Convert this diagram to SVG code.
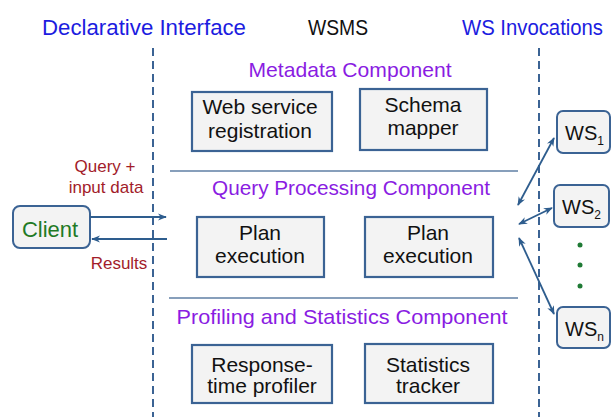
<svg xmlns="http://www.w3.org/2000/svg" width="611" height="417" viewBox="0 0 611 417">
<style>
text{font-family:"Liberation Sans",Arial,sans-serif}
.hdr{font-size:22px;fill:#1c1ce0}
.sec{font-size:21px;fill:#8a1ce2;text-anchor:middle}
.bt{font-size:21px;fill:#111;text-anchor:middle}
.lbl{font-size:17px;fill:#a21c2a;text-anchor:middle}
.box{fill:#f3f3f3;stroke:#3b6394;stroke-width:2.2}
.ws{fill:#f3f3f3;stroke:#3b6394;stroke-width:2}
.dash{stroke:#3b6394;stroke-width:2;stroke-dasharray:8,5;fill:none}
.sep{stroke:#5f7fa5;stroke-width:1.5}
.arr{stroke:#2e5d8e;stroke-width:1.8;fill:none}
</style>
<defs>
<marker id="ah" viewBox="0 0 10 10" refX="9" refY="5" markerWidth="9" markerHeight="9" orient="auto-start-reverse" markerUnits="userSpaceOnUse">
<path d="M0,1 L10,5 L0,9 L3,5 Z" fill="#2e5d8e"/>
</marker>
</defs>
<rect width="611" height="417" fill="#fff"/>
<g id="headers">
<text class="hdr" x="42" y="35" textLength="204" lengthAdjust="spacingAndGlyphs">Declarative Interface</text>
<text x="308" y="35" font-size="22" fill="#111" textLength="60" lengthAdjust="spacingAndGlyphs">WSMS</text>
<text class="hdr" x="462" y="35" textLength="141" lengthAdjust="spacingAndGlyphs">WS Invocations</text>
</g>
<g id="dividers">
<line class="dash" x1="153" y1="48" x2="153" y2="417"/>
<line class="dash" x1="539" y1="48" x2="539" y2="417"/>
<line class="sep" x1="170" y1="171" x2="518" y2="171"/>
<line class="sep" x1="169" y1="298" x2="518" y2="298"/>
</g>
<g id="sections">
<text class="sec" x="350" y="77" textLength="203" lengthAdjust="spacingAndGlyphs">Metadata Component</text>
<text class="sec" x="351" y="195" textLength="278" lengthAdjust="spacingAndGlyphs">Query Processing Component</text>
<text class="sec" x="342" y="324" textLength="331" lengthAdjust="spacingAndGlyphs">Profiling and Statistics Component</text>
</g>
<g id="web-service-registration">
<rect class="box" x="192" y="92" width="140" height="59"/>
<text class="bt" x="260" y="114">Web service</text>
<text class="bt" x="260" y="138">registration</text>
</g>
<g id="schema-mapper">
<rect class="box" x="360" y="89" width="127" height="61"/>
<text class="bt" x="423" y="112">Schema</text>
<text class="bt" x="423" y="135">mapper</text>
</g>
<g id="plan-execution-1">
<rect class="box" x="197" y="217" width="127" height="60"/>
<text class="bt" x="260" y="240">Plan</text>
<text class="bt" x="260" y="263">execution</text>
</g>
<g id="plan-execution-2">
<rect class="box" x="365" y="217" width="128" height="60"/>
<text class="bt" x="428" y="240">Plan</text>
<text class="bt" x="428" y="263">execution</text>
</g>
<g id="response-time-profiler">
<rect class="box" x="192" y="345" width="140" height="58"/>
<text class="bt" x="262" y="372">Response-</text>
<text class="bt" x="262" y="393">time profiler</text>
</g>
<g id="statistics-tracker">
<rect class="box" x="365" y="344" width="128" height="59"/>
<text class="bt" x="428" y="372">Statistics</text>
<text class="bt" x="428" y="393">tracker</text>
</g>
<g id="client">
<rect class="ws" x="13" y="206" width="77" height="42" rx="7"/>
<text x="50" y="237" font-size="22" fill="#1f7a25" text-anchor="middle">Client</text>
</g>
<g id="ws1">
<rect class="ws" x="557" y="111" width="53" height="42" rx="6"/>
<text x="565" y="140" font-size="20" fill="#111">WS<tspan font-size="12" dy="5">1</tspan></text>
</g>
<g id="ws2">
<rect class="ws" x="554" y="185" width="55" height="42" rx="6"/>
<text x="562" y="214" font-size="20" fill="#111">WS<tspan font-size="12" dy="5">2</tspan></text>
</g>
<g id="wsn">
<rect class="ws" x="557" y="307" width="53" height="41" rx="6"/>
<text x="565" y="336" font-size="20" fill="#111">WS<tspan font-size="12" dy="5">n</tspan></text>
</g>
<g id="dots" fill="#1f7a35">
<circle cx="580" cy="245" r="2.5"/>
<circle cx="580" cy="265" r="2.5"/>
<circle cx="580" cy="286" r="2.5"/>
</g>
<g id="connectors">
<line class="arr" x1="90" y1="217" x2="166" y2="217" marker-end="url(#ah)"/>
<line class="arr" x1="167" y1="239" x2="92" y2="239" marker-end="url(#ah)"/>
<line class="arr" x1="518" y1="205" x2="554" y2="138" marker-start="url(#ah)" marker-end="url(#ah)"/>
<line class="arr" x1="519" y1="224" x2="552" y2="208" marker-start="url(#ah)" marker-end="url(#ah)"/>
<line class="arr" x1="519" y1="238" x2="554" y2="314" marker-start="url(#ah)" marker-end="url(#ah)"/>
</g>
<g id="labels">
<text class="lbl" x="105" y="172">Query +</text>
<text class="lbl" x="106" y="193">input data</text>
<text class="lbl" x="119" y="269">Results</text>
</g>
</svg>
